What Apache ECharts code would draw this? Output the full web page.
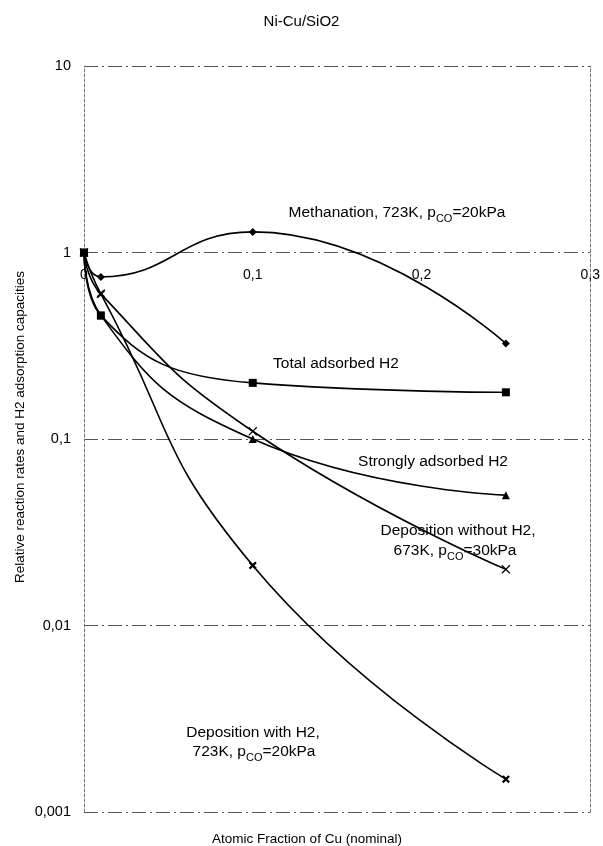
<!DOCTYPE html>
<html>
<head>
<meta charset="utf-8">
<script src="https://cdn.jsdelivr.net/npm/echarts@6/dist/echarts.min.js"></script>
<style>
html,body{margin:0;padding:0;background:#fff;}
#chart{width:603px;height:846px;}
</style>
</head>
<body>
<div id="chart"></div>
<script>
// ---- data ----
const xValues = [0, 0.01, 0.1, 0.25];
const methanation = [1, 0.74, 1.29, 0.325];
const totalAdsorbedH2 = [1, 0.46, 0.2, 0.178];
const stronglyAdsorbedH2 = [1, 0.46, 0.1, 0.05];
const depositionWithoutH2 = [1, 0.6, 0.11, 0.02];
const depositionWithH2 = [1, 0.6, 0.021, 0.0015];
const yTicks = [0.001, 0.01, 0.1, 1, 10];
const xTicks = [0, 0.1, 0.2, 0.3];

const FONT = 'Liberation Sans, Arial, sans-serif';
const crossPath = 'path://M0,1 L1,0 L5,4 L9,0 L10,1 L6,5 L10,9 L9,10 L5,6 L1,10 L0,9 L4,5 Z';
const boldCrossPath = 'path://M0,2 L2,0 L5,3 L8,0 L10,2 L7,5 L10,8 L8,10 L5,7 L2,10 L0,8 L3,5 Z';

function pairs(ys){ return xValues.map((x,i)=>[x, ys[i]]); }
function fmt(v){ return String(Number(v.toPrecision(6))).replace('.', ','); }

const gridTop = 66, gridBottomPx = 812;

function mkSeries(name, ys, symbol, size){
  return {
    name, type:'line', data: pairs(ys), smooth: 0.5,
    symbol, symbolSize: size, showSymbol: true,
    lineStyle:{color:'#000', width:1.6},
    itemStyle:{color:'#000'},
    emphasis:{disabled:true}, z: 5
  };
}

const chart = echarts.init(document.getElementById('chart'), null, {renderer:'canvas'});
const rich = { s:{fontSize:11, fontFamily:FONT, verticalAlign:'bottom', padding:[0,0,-3,0], fill:'#000'} };
function txt(x, y, text, size, rot){
  return {type:'text', x, y, rotation: rot || 0,
    style:{text, font:(size||15.5)+'px '+FONT, fill:'#000', align:'center', verticalAlign:'middle', rich}};
}
chart.setOption({
  animation:false,
  backgroundColor:'#fff',
  title:{text:'Ni-Cu/SiO2', left:'center', top:9, textStyle:{fontFamily:FONT, fontSize:15, fontWeight:'normal', color:'#000'}},
  grid:{left:84, right:12, top:gridTop, bottom:846-gridBottomPx},
  xAxis:[{
    type:'value', min:xTicks[0], max:xTicks[xTicks.length-1], interval:0.1,
    position:'bottom', offset:-(gridBottomPx-253),
    axisLine:{show:false, onZero:false}, axisTick:{show:false}, splitLine:{show:false},
    axisLabel:{margin:15, color:'#000', fontFamily:FONT, fontSize:14, formatter:(v)=>fmt(v)}
  }],
  yAxis:[{
    type:'log', logBase:10, min:yTicks[0], max:yTicks[yTicks.length-1],
    axisLine:{show:true, lineStyle:{color:'#777', type:[3,2]}},
    axisTick:{show:false},
    axisLabel:{margin:13, color:'#000', fontFamily:FONT, fontSize:14.5, formatter:(v)=>fmt(v)},
    splitLine:{show:true, lineStyle:{color:'#555', width:1, type:[14,4,2,4]}}
  },{
    type:'log', logBase:10, min:yTicks[0], max:yTicks[yTicks.length-1], position:'right',
    axisLine:{show:true, lineStyle:{color:'#777', type:[3,2]}},
    axisTick:{show:false}, axisLabel:{show:false}, splitLine:{show:false}
  }],
  series:[
    mkSeries('Methanation', methanation, 'diamond', 8),
    mkSeries('Total adsorbed H2', totalAdsorbedH2, 'rect', 8),
    mkSeries('Strongly adsorbed H2', stronglyAdsorbedH2, 'triangle', 8),
    mkSeries('Deposition without H2', depositionWithoutH2, crossPath, 9),
    mkSeries('Deposition with H2', depositionWithH2, boldCrossPath, 8)
  ],
  graphic:[
    txt(397, 213, 'Methanation, 723K, p{s|CO}=20kPa'),
    txt(336, 364, 'Total adsorbed H2'),
    txt(433, 462, 'Strongly adsorbed H2'),
    txt(458, 531, 'Deposition without H2,'),
    txt(455, 551, '673K, p{s|CO}=30kPa'),
    txt(253, 733, 'Deposition with H2,'),
    txt(254, 752, '723K, p{s|CO}=20kPa'),
    txt(307, 839, 'Atomic Fraction of Cu (nominal)', 13.5),
    txt(20, 427, 'Relative reaction rates and H2 adsorption capacities', 13.5, Math.PI/2)
  ]
});
</script>
</body>
</html>
